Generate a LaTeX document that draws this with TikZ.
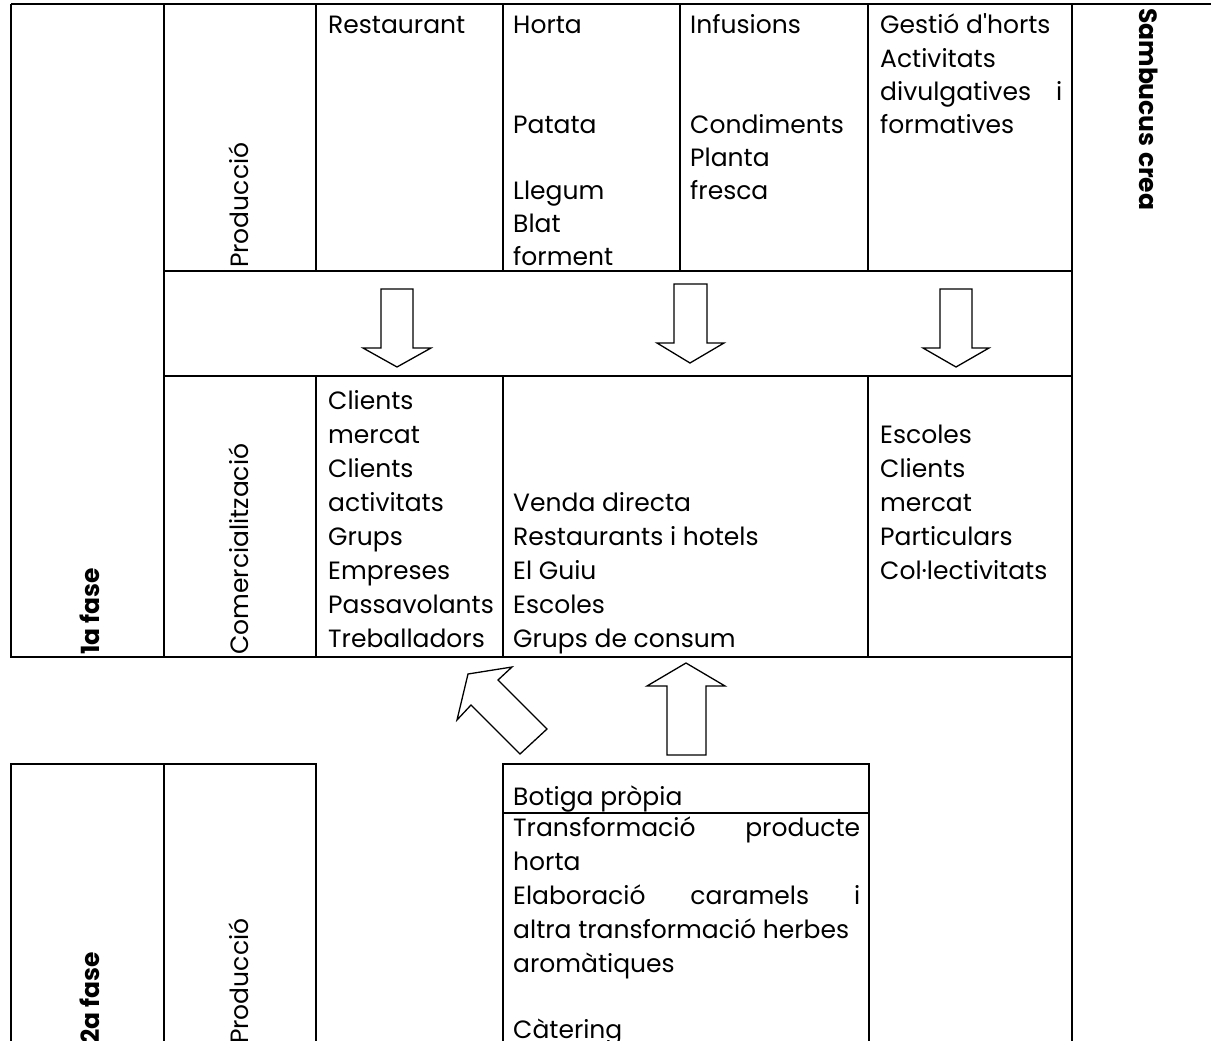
\documentclass[tikz,border=0pt]{standalone}
\usepackage{fontspec}
\setmainfont{Poppins}
\usepackage{tikz}

\begin{document}
\begin{tikzpicture}[x=1pt, y=-1pt,
    grid/.style={line width=2pt},
    blockarrow/.style={line width=1.3pt, fill=white, line join=miter},
    txt/.style={anchor=base west, inner sep=0pt, font=\fontsize{25}{30}\selectfont},
    lbl/.style={txt, rotate=90},
    fase/.style={lbl, font=\fontsize{25}{30}\selectfont\bfseries}]
    \useasboundingbox (0,0) rectangle (1211,1041);
    \clip (0,0) rectangle (1211,1041);

    % 1a fase grid
    \draw[grid] (11,4) -- (1211,4);
    \draw[grid] (11,4) -- (11,657) -- (1072,657);
    \draw[grid] (164,4) -- (164,657);
    \draw[grid] (164,271) -- (1072,271);
    \draw[grid] (164,376) -- (1072,376);
    \draw[grid] (316,4) -- (316,271) (316,376) -- (316,657);
    \draw[grid] (503,4) -- (503,271) (503,376) -- (503,657);
    \draw[grid] (680,4) -- (680,271);
    \draw[grid] (868,4) -- (868,271) (868,376) -- (868,657);
    \draw[grid] (1072,4) -- (1072,1050);

    % 2a fase grid
    \draw[grid] (11,1050) -- (11,764) -- (316,764) -- (316,1050);
    \draw[grid] (164,764) -- (164,1050);
    \draw[grid] (503,1050) -- (503,764) -- (869,764) -- (869,1050);
    \draw[grid] (503,813) -- (869,813);

    % Side labels
    \node[fase] (fase1) at (99,655) {1a fase};
    \node[fase] (fase2) at (99,1044) {2a fase};
    \node[lbl] (prod1) at (248,268) {Producció};
    \node[lbl] (comer) at (248,655) {Comercialització};
    \node[lbl] (prod2) at (248,1044) {Producció};
    \node[txt, rotate=-90, font=\fontsize{25}{30}\selectfont\bfseries] (sambucus) at (1139,8) {Sambucus crea};

    % Producció row
    \node[txt] (rest) at (328,34) {Restaurant};
    \foreach \y/\t [count=\i] in {34/Horta, 133/Patata, 199/Llegum, 232/Blat, 265/forment}
        \node[txt] (horta\i) at (513,\y) {\t};
    \foreach \y/\t [count=\i] in {34/Infusions, 133/Condiments, 166/Planta, 199/fresca}
        \node[txt] (infus\i) at (690,\y) {\t};
    \foreach \y/\t [count=\i] in {34/Gestió d\textquotesingle horts, 67/Activitats,
        100/{\makebox[182pt][s]{divulgatives i}}, 133/formatives}
        \node[txt] (gestio\i) at (880,\y) {\t};

    % Comercialització row
    \foreach \y/\t [count=\i] in {409/Clients, 443/mercat, 477/Clients, 511/activitats,
        545/Grups, 579/Empreses, 613/Passavolants, 647/Treballadors}
        \node[txt] (clients\i) at (328,\y) {\t};
    \foreach \y/\t [count=\i] in {511/Venda directa, 545/Restaurants i hotels,
        579/El Guiu, 613/Escoles, 647/Grups de consum}
        \node[txt] (venda\i) at (513,\y) {\t};
    \foreach \y/\t [count=\i] in {443/Escoles, 477/Clients, 511/mercat,
        545/Particulars, 579/Col·lectivitats}
        \node[txt] (escoles\i) at (880,\y) {\t};

    % 2a fase box
    \node[txt] (botiga) at (513,805) {Botiga pròpia};
    \foreach \y/\t [count=\i] in {836/{\makebox[347pt][s]{Transformació producte}},
        870/horta, 904/{\makebox[347pt][s]{Elaboració caramels i}},
        938/altra transformació herbes, 972/aromàtiques, 1038/Càtering}
        \node[txt] (transf\i) at (513,\y) {\t};

    % Arrows
    \draw[blockarrow] (381,289) -- (413,289) -- (413,348) -- (431,348) -- (397,367) -- (363,348) -- (381,348) -- cycle;
    \draw[blockarrow] (674,284) -- (707,284) -- (707,343) -- (724,343) -- (690,363) -- (657,343) -- (674,343) -- cycle;
    \draw[blockarrow] (940,289) -- (972,289) -- (972,348) -- (989,348) -- (956,367) -- (923,348) -- (940,348) -- cycle;
    \draw[blockarrow] (667,755) -- (706,755) -- (706,686) -- (725,686) -- (686,663) -- (647,686) -- (667,686) -- cycle;
    \draw[blockarrow] (457,720) -- (468,674) -- (512,667) -- (498,680) -- (547,729) -- (520,754) -- (471,705) -- cycle;
\end{tikzpicture}
\end{document}
